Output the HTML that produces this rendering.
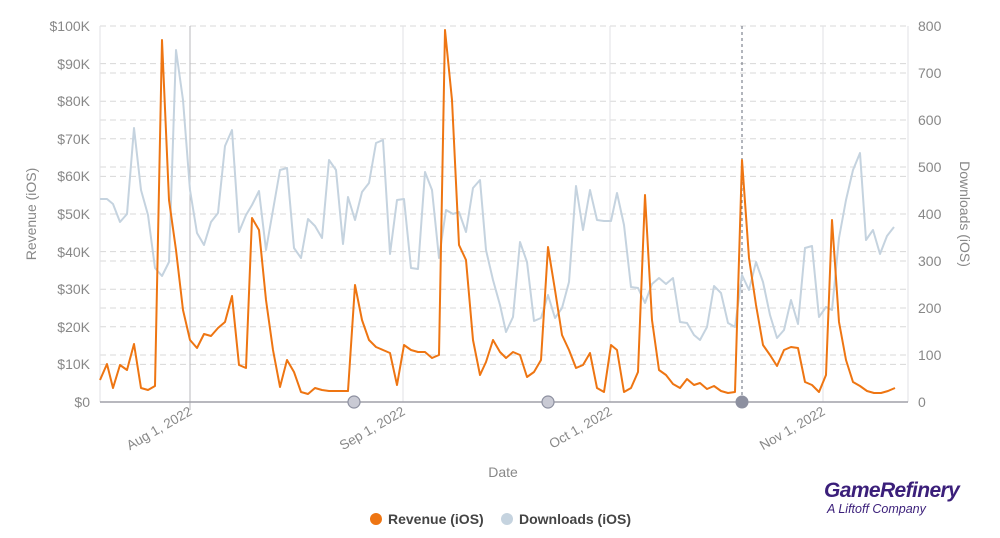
<!DOCTYPE html>
<html><head><meta charset="utf-8"><style>
body{margin:0;background:#fff;width:1000px;height:533px;overflow:hidden;font-family:"Liberation Sans",sans-serif}
</style></head><body>
<svg width="1000" height="533" viewBox="0 0 1000 533" xmlns="http://www.w3.org/2000/svg" font-family="Liberation Sans, sans-serif">
<g stroke="#d8d8d8" stroke-dasharray="6,4" stroke-width="1">
<line x1="100" x2="908" y1="26" y2="26"/><line x1="100" x2="908" y1="63.6" y2="63.6"/><line x1="100" x2="908" y1="101.2" y2="101.2"/><line x1="100" x2="908" y1="138.8" y2="138.8"/><line x1="100" x2="908" y1="176.4" y2="176.4"/><line x1="100" x2="908" y1="214" y2="214"/><line x1="100" x2="908" y1="251.6" y2="251.6"/><line x1="100" x2="908" y1="289.2" y2="289.2"/><line x1="100" x2="908" y1="326.8" y2="326.8"/><line x1="100" x2="908" y1="364.4" y2="364.4"/>
<line x1="100" x2="908" y1="73" y2="73"/><line x1="100" x2="908" y1="120" y2="120"/><line x1="100" x2="908" y1="167" y2="167"/><line x1="100" x2="908" y1="214" y2="214"/><line x1="100" x2="908" y1="261" y2="261"/><line x1="100" x2="908" y1="308" y2="308"/><line x1="100" x2="908" y1="355" y2="355"/>
</g>
<g stroke="#e2e2e6" stroke-width="1">
<line x1="100" x2="100" y1="26" y2="402"/><line x1="908" x2="908" y1="26" y2="402"/>
<line x1="403" x2="403" y1="26" y2="402"/><line x1="610" x2="610" y1="26" y2="402"/><line x1="823" x2="823" y1="26" y2="402"/>
</g>
<line x1="190" x2="190" y1="26" y2="410" stroke="#b8b8bc"/>
<line x1="742" x2="742" y1="26" y2="402" stroke="#666b78" stroke-dasharray="3,3"/>
<line x1="100" x2="908" y1="402" y2="402" stroke="#a0a0a8" stroke-width="1.5"/>
<polyline fill="none" stroke="#c5d3df" stroke-width="2" stroke-linejoin="round" points="100,199 107,199 113,204 120,222 127,214 134,128 141,190 148,215 155,268 162,276 169,262 176,50 183,100 190,190 197,233 204,245 211,222 218,213 225,146 232,130 239,232 246,215 252,205 259,191 266,250 273,210 280,170 287,168 294,248 301,258 308,219 315,226 322,238 329,160 336,170 343,244 348,197 355,220 362,192 369,183 376,143 383,140 390,254 397,200 404,199 411,268 418,269 425,172 432,190 439,258 446,210 453,214 459,212 466,232 473,188 480,180 486,250 493,280 500,305 506,332 513,317 520,242 527,262 534,321 541,318 548,295 555,318 562,308 569,282 576,186 583,230 590,190 597,220 604,221 611,221 617,193 624,225 631,287 638,288 645,303 652,284 659,278 666,284 673,278 680,322 687,323 694,335 700,340 707,327 714,286 721,293 728,323 735,327 742,275 749,290 756,262 763,282 770,315 777,338 784,330 791,300 798,324 805,248 812,246 819,317 826,307 832,310 839,238 846,200 853,170 860,153 866,240 873,230 880,254 887,236 894,227"/>
<polyline fill="none" stroke="#ee7512" stroke-width="2" stroke-linejoin="round" points="100,380 107,364 113,388 120,365 127,370 134,344 141,388 148,390 155,386 162,40 169,200 176,250 183,310 190,340 197,348 204,334 211,336 218,328 225,322 232,296 239,365 246,368 252,218 259,230 266,300 273,350 280,387 287,360 294,372 301,392 308,394 315,388 322,390 329,391 336,391 343,391 348,391 355,285 362,320 369,340 376,347 383,350 390,353 397,385 404,345 411,350 418,352 425,352 432,358 439,355 445,30 452,100 459,245 466,260 473,340 480,375 486,362 493,340 500,352 506,358 513,352 520,355 527,377 534,372 541,360 548,247 555,290 562,335 569,350 576,368 583,365 590,353 597,388 604,392 611,345 617,350 624,392 631,388 638,372 645,195 652,320 659,370 666,375 673,384 680,388 687,379 694,385 700,383 707,389 714,386 721,391 728,393 735,392 742,160 749,258 756,305 763,345 770,355 777,366 784,350 791,347 798,348 805,382 812,385 819,392 826,375 832,220 839,322 846,360 853,382 860,386 867,391 874,393 881,393 888,391 895,388"/>
<g fill="#c9cad4" stroke="#8d90a0" stroke-width="1.2"><circle cx="354" cy="402" r="6"/><circle cx="548" cy="402" r="6"/></g>
<circle cx="742" cy="402" r="6.5" fill="#8d90a0"/>
<g fill="#888" font-size="14" text-anchor="end">
<text x="90" y="31">$100K</text><text x="90" y="69">$90K</text><text x="90" y="106">$80K</text><text x="90" y="144">$70K</text><text x="90" y="181">$60K</text><text x="90" y="219">$50K</text><text x="90" y="257">$40K</text><text x="90" y="294">$30K</text><text x="90" y="332">$20K</text><text x="90" y="369">$10K</text><text x="90" y="407">$0</text>
</g>
<g fill="#888" font-size="14">
<text x="918" y="31">800</text><text x="918" y="78">700</text><text x="918" y="125">600</text><text x="918" y="172">500</text><text x="918" y="219">400</text><text x="918" y="266">300</text><text x="918" y="313">200</text><text x="918" y="360">100</text><text x="918" y="407">0</text>
</g>
<g fill="#888" font-size="13.5" text-anchor="end">
<text transform="translate(193,414) rotate(-30)">Aug 1, 2022</text>
<text transform="translate(406,414) rotate(-30)">Sep 1, 2022</text>
<text transform="translate(613,414) rotate(-30)">Oct 1, 2022</text>
<text transform="translate(826,414) rotate(-30)">Nov 1, 2022</text>
</g>
<text x="503" y="477" fill="#888" font-size="14" text-anchor="middle">Date</text>
<text transform="translate(36,214) rotate(-90)" fill="#888" font-size="14" text-anchor="middle">Revenue (iOS)</text>
<text transform="translate(960,214) rotate(90)" fill="#888" font-size="14" text-anchor="middle">Downloads (iOS)</text>
<circle cx="376" cy="519" r="6" fill="#ee7512"/>
<text x="388" y="524" fill="#444" font-size="14" font-weight="bold">Revenue (iOS)</text>
<circle cx="507" cy="519" r="6" fill="#c5d3df"/>
<text x="519" y="524" fill="#444" font-size="14" font-weight="bold">Downloads (iOS)</text>
<text x="824" y="497" fill="#3b1f7a" font-size="21" font-weight="bold" font-style="italic" letter-spacing="-0.6">GameRefinery</text>
<text x="827" y="513" fill="#3b1f7a" font-size="12.5" font-style="italic">A Liftoff Company</text>
</svg>
</body></html>
